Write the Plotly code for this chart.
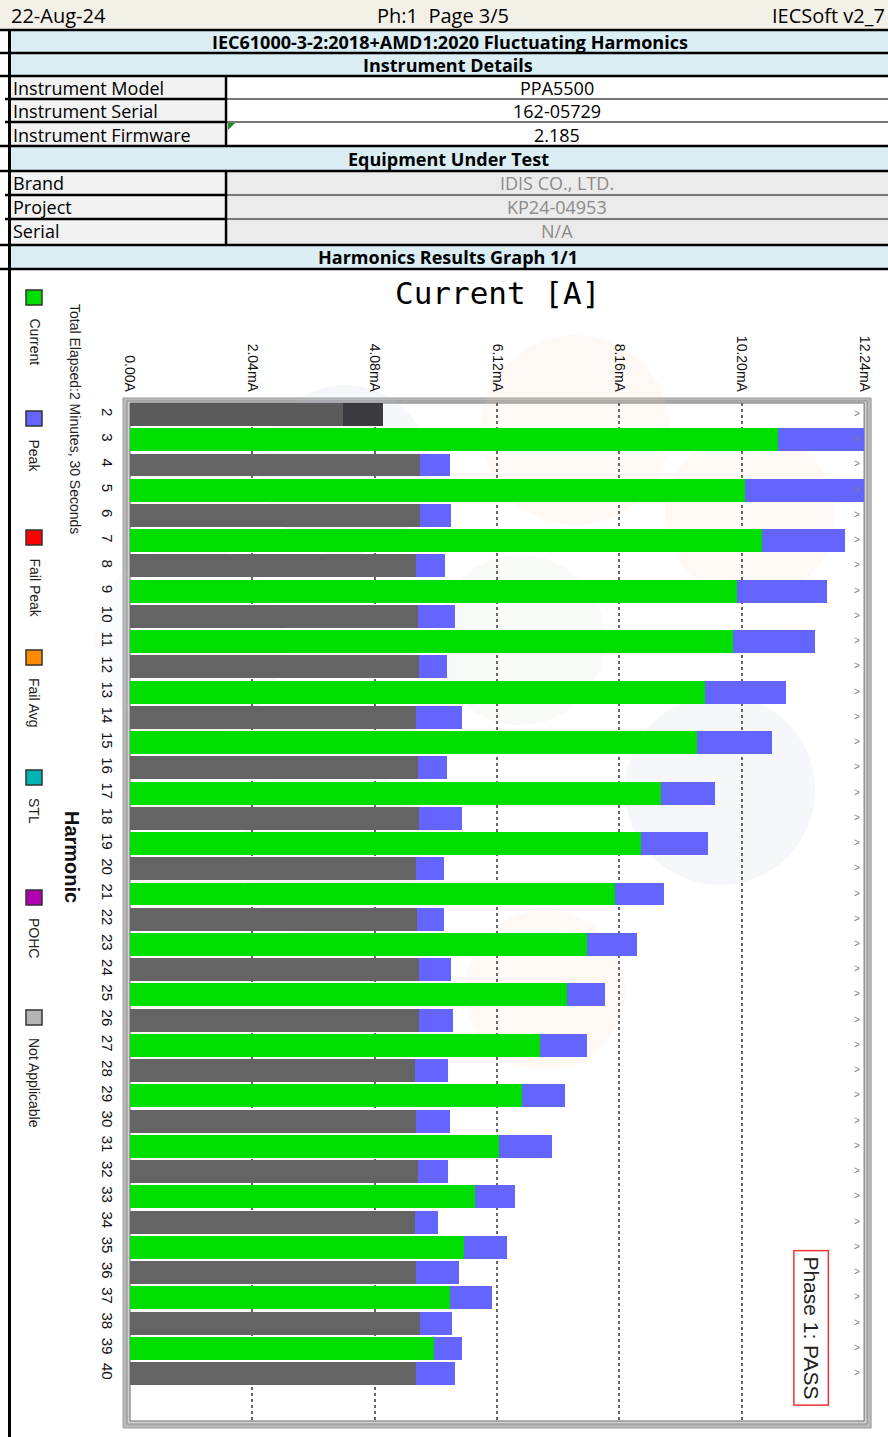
import plotly.graph_objects as go

# The page shows the figure 8 px in from the left and squeezed sideways by 0.982
W, H = 896, 1437
OFFX, SX = 8, 0.982

# ---------------- data ----------------
harmonics = list(range(2, 41))
current_mA = [3.55, 10.80, 4.83, 10.25, 4.83, 10.53, 4.77, 10.12, 4.80, 10.05,
              4.82, 9.58, 4.77, 9.45, 4.80, 8.85, 4.82, 8.52, 4.77, 8.08,
              4.78, 7.62, 4.82, 7.28, 4.82, 6.83, 4.75, 6.53, 4.77, 6.15,
              4.80, 5.75, 4.75, 5.57, 4.77, 5.33, 4.83, 5.07, 4.77]
peak_mA = [4.22, 12.24, 5.33, 12.24, 5.35, 11.92, 5.25, 11.62, 5.42, 11.42,
           5.28, 10.93, 5.53, 10.70, 5.28, 9.75, 5.53, 9.63, 5.23, 8.90,
           5.23, 8.45, 5.35, 7.92, 5.38, 7.62, 5.30, 7.25, 5.33, 7.03,
           5.30, 6.42, 5.13, 6.28, 5.48, 6.03, 5.37, 5.53, 5.42]
tick_vals = [0, 2.04, 4.08, 6.12, 8.16, 10.20, 12.24]
tick_text = ["0.00A", "2.04mA", "4.08mA", "6.12mA", "8.16mA", "10.20mA", "12.24mA"]
legend_names = ["Current", "Peak", "Fail Peak", "Fail Avg", "STL", "POHC", "Not Applicable"]
legend_colors = ["#00dd00", "#6464ff", "#ff0000", "#ff8c00", "#00b4b4", "#b000b0", "#b4b4b4"]

header_left, header_mid, header_right = "22-Aug-24", "Ph:1  Page 3/5", "IECSoft v2_7"
std_title = "IEC61000-3-2:2018+AMD1:2020 Fluctuating Harmonics"
inst_labels = ["Instrument Model", "Instrument Serial", "Instrument Firmware"]
inst_values = ["PPA5500", "162-05729", "2.185"]
eut_labels = ["Brand", "Project", "Serial"]
eut_values = ["IDIS CO., LTD.", "KP24-04953", "N/A"]

# ---------------- helpers ----------------
def X(px):
    return (px - OFFX) / (SX * W)

def Y(py):
    return 1 - py / H

shapes = []
annotations = []

def rect(x0, y0, x1, y1, fill=None, line=None, lw=0, layer="below"):
    shapes.append(dict(type="rect", xref="paper", yref="paper",
                       x0=X(x0), x1=X(x1), y0=Y(y1), y1=Y(y0),
                       fillcolor=fill if fill else "rgba(0,0,0,0)",
                       line=dict(color=line if line else "rgba(0,0,0,0)", width=lw),
                       layer=layer))

def hline(x0, x1, y, color="black", lw=2.5):
    shapes.append(dict(type="line", xref="paper", yref="paper",
                       x0=X(x0), x1=X(x1), y0=Y(y), y1=Y(y),
                       line=dict(color=color, width=lw), layer="above"))

def vline(x, y0, y1, color="black", lw=2.5):
    shapes.append(dict(type="line", xref="paper", yref="paper",
                       x0=X(x), x1=X(x), y0=Y(y0), y1=Y(y1),
                       line=dict(color=color, width=lw), layer="above"))

def text(x, y, s, size=18, color="black", bold=False, xanchor="center",
         yanchor="middle", angle=0, family="Open Sans", pad=0):
    annotations.append(dict(xref="paper", yref="paper", x=X(x), y=Y(y),
                            text=f"<b>{s}</b>" if bold else s, showarrow=False,
                            xanchor=xanchor, yanchor=yanchor, textangle=angle,
                            borderpad=pad,
                            font=dict(size=size, color=color, family=family)))

# ---------------- table ----------------
LB = "#daeef3"
RE = 900
rect(0, 0, RE, 30, fill="#f3f1e7")
rect(8, 30, RE, 53, fill=LB)
rect(8, 53, RE, 76, fill=LB)
rect(8, 76, 226, 146, fill="#f2f2f2")
rect(226, 76, RE, 146, fill="#ffffff")
rect(8, 146, RE, 171, fill=LB)
rect(8, 171, 226, 245, fill="#f2f2f2")
rect(226, 171, RE, 245, fill="#ebebeb")
rect(8, 245, RE, 269, fill=LB)

for yy in [30, 53, 76, 146, 171, 245, 269]:
    hline(0, RE, yy)
for yy in [99, 122, 195, 219]:
    hline(5, 226, yy, "black", 2.5)
    hline(226, RE, yy, "#777777", 2)
vline(226, 76, 146)
vline(226, 171, 245)
vline(9.5, 29, 1440, lw=3)

# green excel triangle
shapes.append(dict(type="path", xref="paper", yref="paper",
                   path=f"M {X(228)} {Y(123)} L {X(235)} {Y(123)} L {X(228)} {Y(130)} Z",
                   fillcolor="#1a8a1a", line=dict(width=0), layer="above"))

text(10, 15, header_left, size=20, xanchor="left")
text(443, 15, header_mid, size=20)
text(886, 15, header_right, size=20, xanchor="right")
text(450, 42, std_title, size=18, bold=True)
text(448, 65, "Instrument Details", size=18, bold=True)
for i, (lab, val) in enumerate(zip(inst_labels, inst_values)):
    yc = 88 + i * 23.5
    text(12, yc, lab, size=18, xanchor="left")
    text(557, yc, val, size=18)
text(448, 159, "Equipment Under Test", size=18, bold=True)
for i, (lab, val) in enumerate(zip(eut_labels, eut_values)):
    yc = 183 + i * 24
    text(12, yc, lab, size=18, xanchor="left")
    text(557, yc, val, size=18, color="#8a8a8a")
text(448, 257, "Harmonics Results Graph 1/1", size=18, bold=True)

# ---------------- chart frame ----------------
rect(123, 398, 871, 1428, fill="#b9b9b9", line="#9c9c9c", lw=1)
rect(127, 401, 867, 1424, fill="#d2d2d2", line="#8a8a8a", lw=1)
rect(130, 403, 864, 1421, fill="#ffffff", line="#6a6a6a", lw=1)

# faint watermark circles
circles = [(345, 470, 85, "rgba(190,200,225,0.14)"),
           (575, 430, 95, "rgba(250,210,170,0.13)"),
           (750, 515, 85, "rgba(250,210,170,0.13)"),
           (520, 640, 85, "rgba(200,215,200,0.13)"),
           (720, 790, 95, "rgba(190,200,225,0.14)"),
           (330, 850, 90, "rgba(190,205,215,0.13)"),
           (545, 990, 80, "rgba(250,210,170,0.13)"),
           (190, 640, 95, "rgba(200,205,220,0.10)")]
for cx, cy, r, col in circles:
    shapes.append(dict(type="circle", xref="paper", yref="paper",
                       x0=X(cx - r), x1=X(cx + r), y0=Y(cy + r), y1=Y(cy - r),
                       fillcolor=col, line=dict(width=0), layer="below"))

# ---------------- bars ----------------
cur_colors = []
pk_colors = []
for h in harmonics:
    if h == 2:
        cur_colors.append("#5b5b5b")
        pk_colors.append("#3b3b3f")
    elif h % 2 == 1:
        cur_colors.append("#00dd00")
        pk_colors.append("#6464ff")
    else:
        cur_colors.append("#646464")
        pk_colors.append("#6464ff")

fig = go.Figure()
fig.add_trace(go.Bar(x=peak_mA, y=harmonics, orientation="h", width=0.91,
                     marker=dict(color=pk_colors, line=dict(width=0)),
                     name="Peak", showlegend=False))
fig.add_trace(go.Bar(x=current_mA, y=harmonics, orientation="h", width=0.91,
                     marker=dict(color=cur_colors, line=dict(width=0)),
                     name="Current", showlegend=False))
fig.add_trace(go.Scatter(x=[12.12] * len(harmonics), y=harmonics, mode="text",
                         text=[">"] * len(harmonics),
                         textfont=dict(size=10, color="#808080", family="Liberation Sans"),
                         showlegend=False, hoverinfo="skip", cliponaxis=False))

# ---------------- chart texts ----------------
text(497, 293, "Current [A]", size=31, family="DejaVu Sans Mono")
text(75, 303, "Total Elapsed:2 Minutes, 30 Seconds", size=14, angle=90,
     yanchor="top", family="Liberation Sans", color="#222222")
text(72, 857, "Harmonic", size=20, bold=True, angle=90, family="Liberation Sans",
     color="#111111")

leg_y = [290, 411, 530, 650, 770, 890, 1010]
for name, col, yy in zip(legend_names, legend_colors, leg_y):
    rect(26, yy, 42, yy + 15, fill=col, line="#333333", lw=1.5, layer="above")
    text(34, yy + 27, name, size=14, angle=90, yanchor="top",
         family="Liberation Sans", color="#222222")

annotations.append(dict(xref="paper", yref="paper", x=X(811), y=Y(1328),
                        xanchor="center", yanchor="middle",
                        text="Phase 1: PASS", showarrow=False, textangle=90,
                        font=dict(size=21, color="#222222", family="Liberation Sans"),
                        bordercolor="#ee3333", borderwidth=1.5, borderpad=5,
                        bgcolor="rgba(255,255,255,0)"))

# ---------------- layout ----------------
fig.update_layout(
    width=W, height=H, autosize=False,
    margin=dict(l=0, r=0, t=0, b=0, pad=0),
    paper_bgcolor="white", plot_bgcolor="rgba(0,0,0,0)",
    barmode="overlay", bargap=0,
    shapes=shapes, annotations=annotations,
    xaxis=dict(domain=[X(130), X(864)], range=[0, 12.24], side="top",
               tickvals=tick_vals, ticktext=tick_text, tickangle=90,
               tickfont=dict(size=14, color="#111111", family="Liberation Sans Narrow, Liberation Sans"),
               ticklabeloverflow="allow",
               showgrid=True, gridcolor="#666666", griddash="dot", gridwidth=1.5,
               zeroline=False, showline=False, ticks="", ticklabelstandoff=8,
               fixedrange=True),
    yaxis=dict(domain=[Y(1421), Y(403)], range=[41.882, 1.544],
               tickvals=harmonics, ticktext=[str(h) for h in harmonics],
               tickangle=90,
               tickfont=dict(size=15, color="#111111", family="Liberation Sans"),
               showgrid=False, zeroline=False, showline=False, ticks="",
               ticklabelstandoff=12, fixedrange=True),
    showlegend=False,
)

fig.write_html("out.html")
